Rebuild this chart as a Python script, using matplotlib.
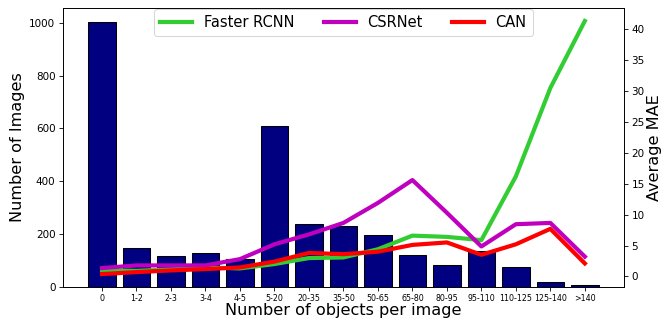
import matplotlib
matplotlib.use("Agg")
import matplotlib.pyplot as plt
from matplotlib.ticker import MultipleLocator

# object-count bins and image counts per bin
bins = ['0', '1-2', '2-3', '3-4', '4-5', '5-20', '20-35', '35-50', '50-65',
        '65-80', '80-95', '95-110', '110-125', '125-140', '>140']
num_images = [1005, 148, 117, 126, 105, 611, 237, 231, 195, 120, 81, 135, 75, 17, 6]

# average MAE per bin for each model
mae_faster_rcnn = [1.0, 0.9, 1.13, 1.45, 1.3, 2.0, 2.97, 3.07, 4.4, 6.6, 6.4, 5.87, 16.2, 30.5, 41.35]
mae_csrnet = [1.35, 1.78, 1.78, 1.78, 2.8, 5.2, 6.8, 8.66, 11.9, 15.6, 10.3, 4.85, 8.45, 8.66, 3.2]
mae_can = [0.38, 0.7, 0.97, 1.19, 1.45, 2.4, 3.8, 3.6, 4.0, 5.1, 5.5, 3.5, 5.2, 7.7, 2.1]

fig = plt.figure(figsize=(664/75, 320/75), dpi=75)
ax = fig.add_axes([0.0944, 0.104, 0.8456, 0.870])
x = range(len(bins))
ax.bar(x, num_images, width=0.8, color='navy', edgecolor='black', linewidth=1)
ax.set_xticks(list(x))
ax.set_xticklabels(bins, fontsize=7.5)
ax.tick_params(axis='y', labelsize=10)
ax.set_xlabel("Number of objects per image", fontsize=15.5, labelpad=0)
ax.set_ylabel("Number of Images", fontsize=15.5)

ax2 = ax.twinx()
ax2.plot(x, mae_faster_rcnn, color='limegreen', linewidth=4, label='Faster RCNN')
ax2.plot(x, mae_csrnet, color='m', linewidth=4, label='CSRNet')
ax2.plot(x, mae_can, color='red', linewidth=4, label='CAN')
ax2.yaxis.set_major_locator(MultipleLocator(5))
ax2.tick_params(axis='y', labelsize=10)
ax2.set_ylabel("Average MAE", fontsize=15.5, labelpad=2)
ax2.legend(loc='upper center', ncol=3, fontsize=14, borderaxespad=0.05,
           handlelength=2.2)

plt.savefig("out.png", dpi=75)
